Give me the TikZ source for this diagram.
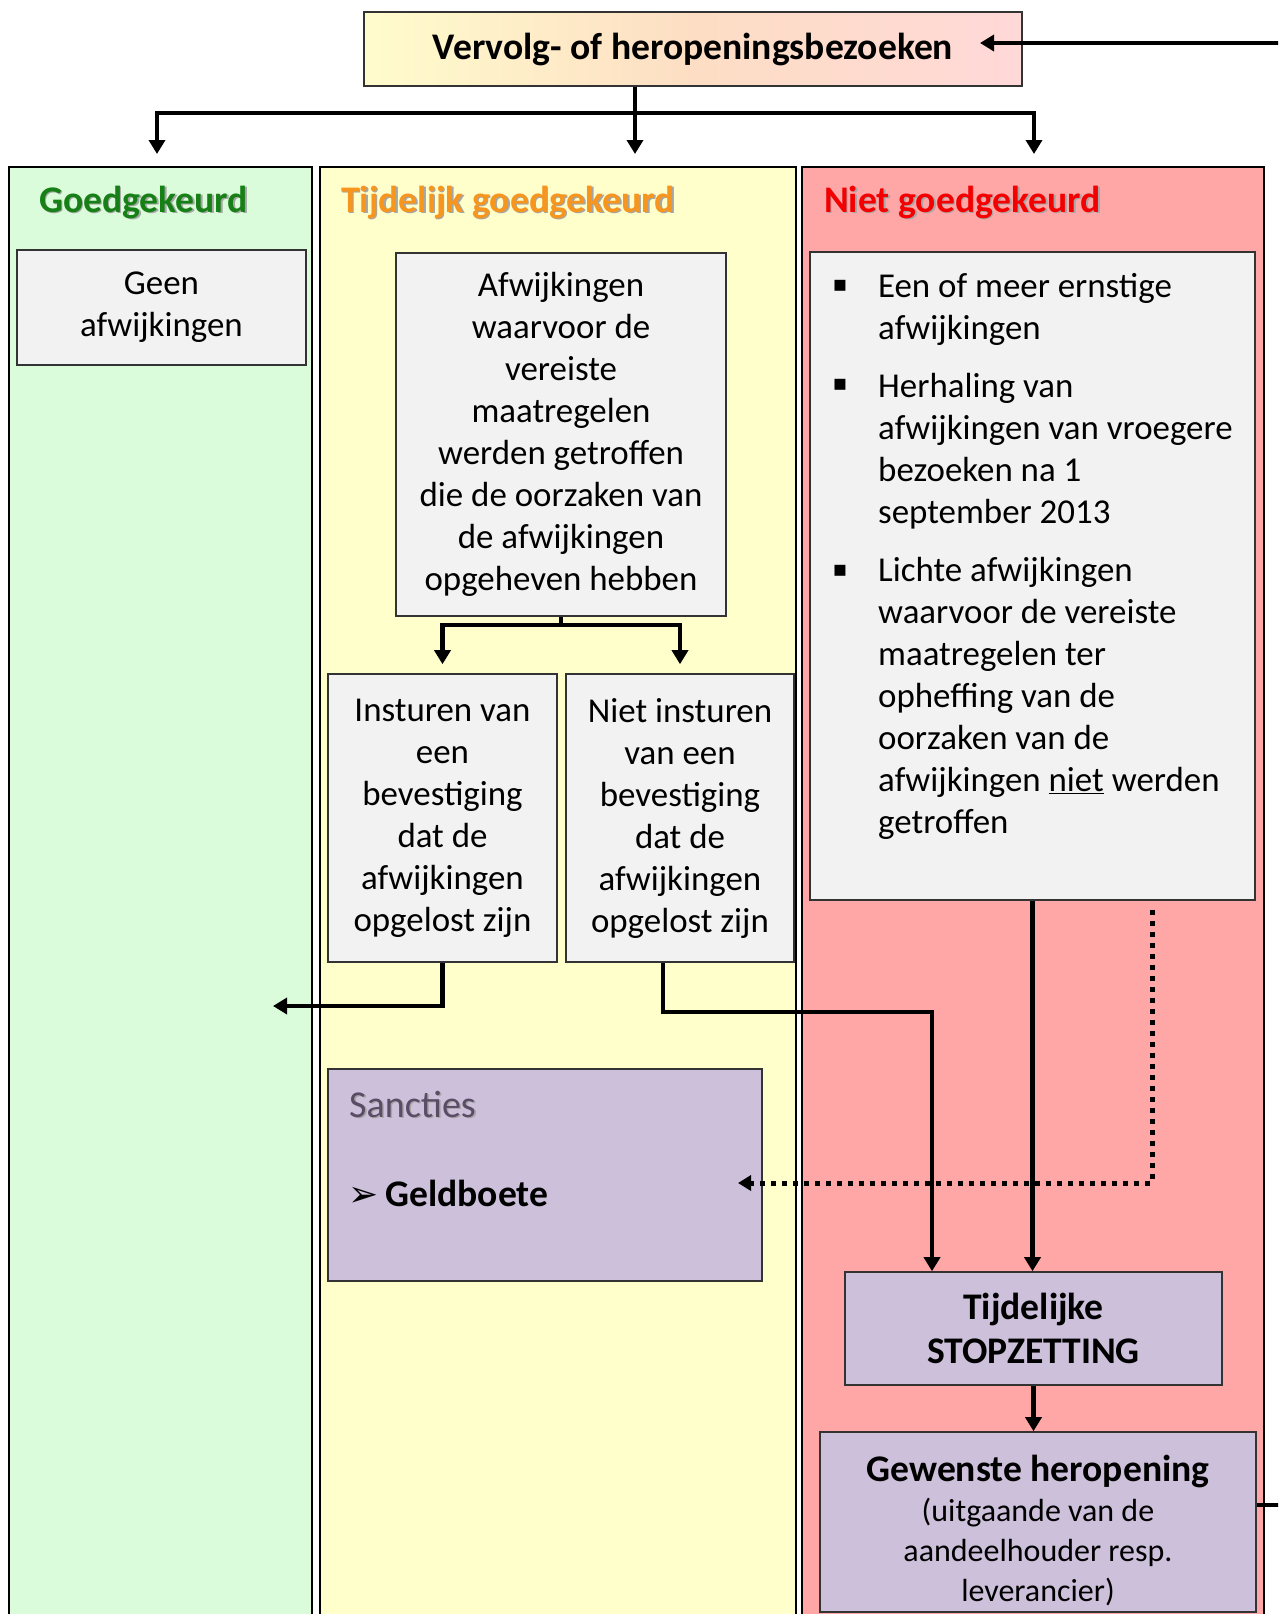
\documentclass[tikz,border=0pt]{standalone}
\usepackage{fontspec}
\setmainfont{Carlito}
\newfontfamily\symfont{DejaVu Sans}
\usetikzlibrary{arrows.meta}
\definecolor{colgreen}{RGB}{218,252,218}
\definecolor{colyellow}{RGB}{255,255,204}
\definecolor{colred}{RGB}{255,166,166}
\definecolor{boxgray}{RGB}{242,242,242}
\definecolor{lav}{RGB}{204,192,218}
\definecolor{hgreen}{RGB}{22,128,22}
\definecolor{horange}{RGB}{247,150,30}
\definecolor{hred}{RGB}{245,0,0}
\definecolor{sancol}{RGB}{90,76,102}
\definecolor{tlyellow}{RGB}{255,252,204}
\definecolor{tlmid}{RGB}{253,222,196}
\definecolor{tlpink}{RGB}{255,216,216}
\newcommand\bodysz{\fontsize{34.9}{42}\selectfont}
\newcommand\boldsz{\fontsize{37.6}{44}\selectfont\bfseries}
\newcommand\smallsz{\fontsize{32}{40}\selectfont}
\newcommand\shd[1]{\rlap{\hspace{1.6pt}\raisebox{-1.6pt}{\textcolor{black!35}{#1}}}#1}
\begin{document}
\begin{tikzpicture}[x=1pt,y=-1pt,
  colbox/.style={draw=black,line width=2pt,inner sep=0pt},
  gbox/.style={draw=black!80,line width=1.6pt,fill=boxgray,inner sep=0pt,align=center,font=\bodysz},
  lbox/.style={draw=black!80,line width=1.6pt,fill=lav,inner sep=0pt,align=center},
  conn/.style={line width=4.5pt,-{Triangle[length=14pt,width=16pt]}},
  dbl/.style={line width=4.5pt,{Triangle[length=14pt,width=16pt]}-{Triangle[length=14pt,width=16pt]}},
  plain/.style={line width=4.5pt},
  dotconn/.style={line width=5pt,dash pattern=on 5pt off 6pt,-{Triangle[length=13pt,width=15pt]}},
  hdr/.style={anchor=base west,inner sep=0pt,font=\boldsz},
  bul/.style={anchor=base,inner sep=0pt,font=\symfont\fontsize{22}{22}\selectfont}]

\useasboundingbox (0,0) rectangle (1278,1614);
\clip (0,0) rectangle (1278,1614);
\fill[white] (0,0) rectangle (1278,1614);

% columns
\node[colbox,fill=colgreen,minimum width=303pt,minimum height=1473pt] (gcol) at (160.5,903.5) {};
\node[colbox,fill=colyellow,minimum width=476pt,minimum height=1473pt] (ycol) at (558,903.5) {};
\node[colbox,fill=colred,minimum width=462pt,minimum height=1473pt] (rcol) at (1033,903.5) {};

% title
\node[draw=black!80,line width=1.6pt,left color=tlyellow,right color=tlpink,middle color=tlmid,
      minimum width=658pt,minimum height=74pt,inner sep=0pt,font=\boldsz] (top) at (693,49) {Vervolg- of heropeningsbezoeken};

% headers
\node[hdr,text=hgreen] (h1) at (39,212) {\shd{Goedgekeurd}};
\node[hdr,text=horange] (h2) at (341,212) {\shd{Tijdelijk goedgekeurd}};
\node[hdr,text=hred] (h3) at (824,212) {\shd{Niet goedgekeurd}};

% boxes
\node[gbox,minimum width=289pt,minimum height=115pt] (geen) at (161.5,307.5) {Geen\\afwijkingen};
\node[gbox,minimum width=330pt,minimum height=363pt] (afw) at (561,434.5)
  {Afwijkingen\\waarvoor de\\vereiste\\maatregelen\\werden getroffen\\die de oorzaken van\\de afwijkingen\\opgeheven hebben};
\node[gbox,minimum width=229pt,minimum height=288pt] (ins) at (442.5,818)
  {Insturen van\\een\\bevestiging\\dat de\\afwijkingen\\opgelost zijn};
\node[gbox,minimum width=228pt,minimum height=288pt] (niet) at (680,818)
  {Niet insturen\\van een\\bevestiging\\dat de\\afwijkingen\\opgelost zijn};

\node[gbox,minimum width=445pt,minimum height=648pt] (list) at (1032.5,576) {};
\node[anchor=north west,inner sep=0pt,align=left,font=\bodysz] (listtxt) at (878,268)
  {\strut Een of meer ernstige\\afwijkingen\\[16pt]Herhaling van\\afwijkingen van vroegere\\bezoeken na 1\\september 2013\\[16pt]Lichte afwijkingen\\waarvoor de vereiste\\maatregelen ter\\opheffing van de\\oorzaken van de\\afwijkingen \underline{niet} werden\\getroffen};
\node[bul] (b1) at (840,291) {▪};
\node[bul] (b2) at (840,390) {▪};
\node[bul] (b3) at (840,576) {▪};

\node[lbox,minimum width=434pt,minimum height=212pt] (sanc) at (545,1175) {};
\node[anchor=base west,inner sep=0pt,font=\fontsize{38}{44}\selectfont,text=sancol] (santxt) at (349,1117) {\shd{Sancties}};
\node[anchor=base west,inner sep=0pt,font=\boldsz] (geld) at (348,1206)
  {{\symfont\fontsize{36}{40}\selectfont\mdseries ➢}\hspace{7pt}Geldboete};

\node[lbox,minimum width=377pt,minimum height=113pt,font=\boldsz] (stop) at (1033.5,1328.5) {Tijdelijke\\STOPZETTING};
\node[lbox,minimum width=436pt,minimum height=180pt] (gew) at (1038,1522) {};
\node[inner sep=0pt,align=center,font=\smallsz] (gewtxt) at (1038,1531)
  {{\boldsz Gewenste heropening}\\(uitgaande van de\\aandeelhouder resp.\\leverancier)};

% connectors
\coordinate (tipG) at (157,154);
\coordinate (tipY) at (635,154);
\coordinate (tipR) at (1034,154);
\coordinate (barR) at (1034,113);
\draw[dbl] (tipG) |- (barR) -- (tipR);
\draw[conn] ([xshift=-58pt]top.south) -- (tipY);

\coordinate (br) at (561,625);
\draw[plain] (afw.south) -- (br);
\draw[dbl,shorten <=9pt,shorten >=9pt] (ins.north) |- (br) -| (niet.north);

\coordinate (gtip) at (273,1006);
\draw[conn] (ins.south) |- (gtip);

\coordinate (nk) at (932,1012);
\draw[conn] ([xshift=-17pt]niet.south) |- (nk) -- (nk |- stop.north);

\draw[conn] (list.south) -- (list.south |- stop.north);

\coordinate (dk) at (1152,1183);
\coordinate (dtip) at (738,1183);
\draw[dotconn,shorten <=9pt] (dk |- list.south) -- (dk) -- (dtip);

\draw[conn] (stop.south) -- (stop.south |- gew.north);

\coordinate (loopR) at (1300,1505);
\coordinate (ttip) at (980,43);
\draw[conn] (gew.east |- loopR) -- (loopR) |- (ttip);
\end{tikzpicture}
\end{document}
